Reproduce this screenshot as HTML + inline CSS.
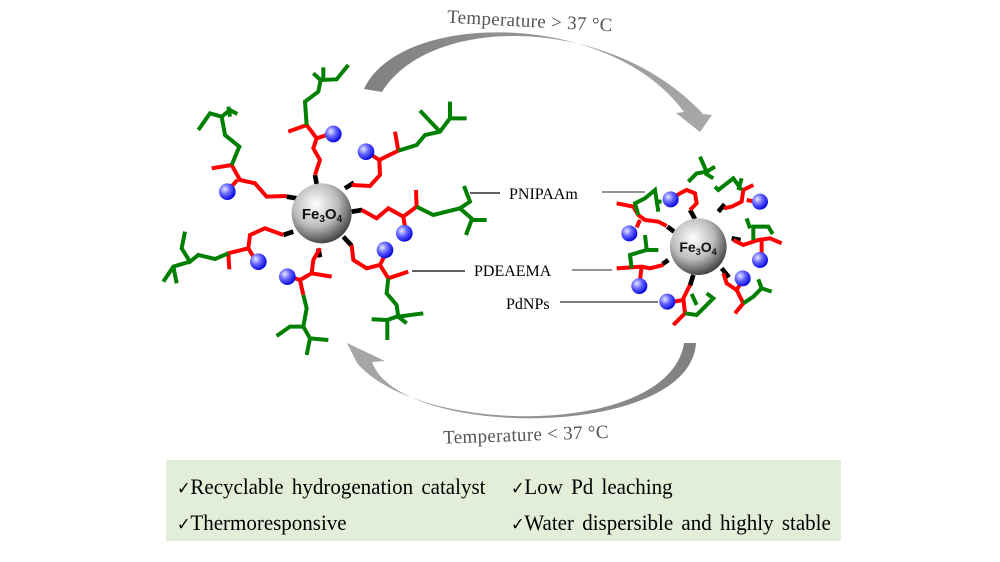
<!DOCTYPE html>
<html><head><meta charset="utf-8"><style>
body{margin:0;background:#fff;width:1000px;height:562px;overflow:hidden;}
svg{position:absolute;left:0;top:0}
.t{font-family:"Liberation Serif",serif;}
</style></head><body>
<svg width="1000" height="562" viewBox="0 0 1000 562">
<defs>
<radialGradient id="bead" cx="0.35" cy="0.35" r="0.7">
<stop offset="0" stop-color="#e8e8ff"/><stop offset="0.45" stop-color="#6666ff"/><stop offset="1" stop-color="#0000dd"/>
</radialGradient>
<radialGradient id="fe" cx="0.4" cy="0.35" r="0.75">
<stop offset="0" stop-color="#ffffff"/><stop offset="0.5" stop-color="#bbbbbb"/><stop offset="1" stop-color="#222"/>
</radialGradient>
<linearGradient id="ga" x1="0" x2="1"><stop offset="0" stop-color="#808080"/><stop offset="1" stop-color="#a8a8a8"/></linearGradient>
<linearGradient id="gb" x1="1" x2="0"><stop offset="0" stop-color="#808080"/><stop offset="1" stop-color="#a8a8a8"/></linearGradient>
</defs>

<!-- arrows -->
<path d="M364,89 C400,10 610,10 684,112 L676,113 L700,132 L712,115 L703,114 C610,14 430,14 382,92 Z" fill="url(#ga)"/>
<path d="M684,343 L696,343 C690,440 400,440 372,362 L385,361 L347,343 L357,363 C420,437 670,437 684,343 Z" fill="url(#gb)"/>
<text class="t" x="447" y="27" font-size="19" letter-spacing="0.3" fill="#555" transform="rotate(3 530 22)">Temperature &gt; 37 °C</text>
<text class="t" x="443" y="441" font-size="19" letter-spacing="0.3" fill="#555" transform="rotate(-2 520 432)">Temperature &lt; 37 °C</text>

<!-- left structure -->
<g transform="translate(150,60) scale(0.3333)" fill="none" stroke-linejoin="miter" stroke-linecap="butt">
<g stroke="#000" stroke-width="14">
<path d="M495,345L500,372M585,385L612,368M605,455L637,450M580,530L605,557M505,565L510,592M400,525L430,515M410,410L440,415"/>
</g>
<g stroke="#ff0000" stroke-width="12">
<path d="M410,408L350,410L315,370L270,360L245,315L185,325M262,360L240,385"/>
<path d="M495,345L510,300L490,265L500,235L470,195L415,215M500,235L530,225"/>
<path d="M605,375L660,378L690,345L688,300L745,272L735,215M688,300L665,285"/>
<path d="M635,450L680,475L715,445L760,470L800,440L798,390M760,470L765,500"/>
<path d="M605,555L610,600L650,625L690,615L715,655L775,635M690,615L705,585"/>
<path d="M510,565L490,600L485,640L545,650M485,640L450,660L460,705M450,660L420,650"/>
<path d="M400,525L345,505L300,525L295,565L235,580L238,628M295,565L310,590"/>
</g>
<g stroke="#008000" stroke-width="12">
<path d="M245,315L268,260L225,225L215,170L180,160L145,210M215,170L240,150L262,162M235,140L240,170"/>
<path d="M470,195L465,125L505,95L512,60L560,58L595,15M512,60L490,40M520,55L520,22"/>
<path d="M745,272L800,255L825,225L870,215L900,175L950,175M900,175L900,125M870,215L810,152"/>
<path d="M800,440L850,465L930,445L970,480L1010,480M930,445L960,425L942,378M965,480L948,525"/>
<path d="M715,655L710,700L740,735L745,770L820,760M745,770L770,790M740,770L712,780L665,778M712,780L712,840"/>
<path d="M460,705L470,745L460,800L420,800L380,828M460,800L480,835L535,840M480,835L470,885"/>
<path d="M235,580L195,597L145,585L120,605L95,565L105,515M120,605L70,620L40,665M70,620L80,670"/>
</g>
<g fill="url(#bead)">
<circle cx="232" cy="395" r="25"/><circle cx="550" cy="222" r="25"/><circle cx="648" cy="275" r="25"/>
<circle cx="763" cy="520" r="25"/><circle cx="705" cy="570" r="25"/><circle cx="412" cy="650" r="25"/><circle cx="325" cy="605" r="25"/>
</g>
<circle cx="515" cy="460" r="90" fill="url(#fe)"/>
</g>
<text x="322" y="219" font-family="Liberation Sans,sans-serif" font-size="15" font-weight="bold" text-anchor="middle" fill="#111">Fe<tspan font-size="10" dy="3">3</tspan><tspan dy="-3">O</tspan><tspan font-size="10" dy="3">4</tspan></text>

<!-- right structure -->
<g transform="translate(580,140) scale(0.3333)" fill="none">
<g stroke="#000" stroke-width="14">
<path d="M330,210L345,237M415,215L434,193M455,295L482,300M425,385L447,412M340,405L330,437M265,360L248,372M262,260L282,275"/>
</g>
<g stroke="#ff0000" stroke-width="12">
<path d="M260,258L235,245L195,240L175,225L160,200L110,190M180,240L170,262"/>
<path d="M330,210L350,190L345,160L320,150L300,160L285,170"/>
<path d="M432,205L455,200L485,185L490,150L520,135M500,180L525,185"/>
<path d="M460,300L490,315L535,300L570,295L605,310M545,300L545,340"/>
<path d="M430,400L440,430L470,450L490,490L465,520M470,450L485,425"/>
<path d="M330,435L310,475L315,520L280,555M310,480L282,485"/>
<path d="M250,375L210,385L185,380L110,385M185,380L180,420"/>
</g>
<g stroke="#008000" stroke-width="12">
<path d="M175,225L165,190L195,175L225,150L235,215M225,185L245,185"/>
<path d="M325,125L350,100L380,95L360,50M380,95L405,80M375,100L400,115"/>
<path d="M485,150L460,115L415,150L405,140M485,115L475,150"/>
<path d="M520,300L520,260L565,260L578,282M500,235L510,265"/>
<path d="M490,490L520,470L545,445L575,455M545,445L535,418"/>
<path d="M315,520L350,525L375,500L400,475L380,460M350,495L335,462"/>
<path d="M155,385L150,345L200,330L195,285M200,330L235,330"/>
</g>
<g fill="url(#bead)">
<circle cx="272" cy="178" r="24"/><circle cx="148" cy="280" r="24"/><circle cx="540" cy="185" r="24"/>
<circle cx="540" cy="360" r="24"/><circle cx="488" cy="415" r="24"/><circle cx="262" cy="485" r="24"/><circle cx="178" cy="438" r="24"/>
</g>
<circle cx="355" cy="320" r="85" fill="url(#fe)"/>
</g>
<text x="698" y="252" font-family="Liberation Sans,sans-serif" font-size="14" font-weight="bold" text-anchor="middle" fill="#111">Fe<tspan font-size="9" dy="3">3</tspan><tspan dy="-3">O</tspan><tspan font-size="9" dy="3">4</tspan></text>

<!-- labels -->
<g stroke-width="1.3">
<line x1="470" y1="193" x2="500" y2="193" stroke="#000"/>
<line x1="602" y1="192" x2="645" y2="192" stroke="#555"/>
<line x1="412" y1="271" x2="465" y2="271" stroke="#000"/>
<line x1="572" y1="270" x2="612" y2="270" stroke="#555"/>
<line x1="560" y1="302" x2="658" y2="302" stroke="#333"/>
</g>
<text class="t" x="509" y="199" font-size="16" fill="#000">PNIPAAm</text>
<text class="t" x="474" y="276" font-size="16" fill="#000">PDEAEMA</text>
<text class="t" x="506" y="309" font-size="16" fill="#000">PdNPs</text>

<!-- feature box -->
<rect x="166" y="460" width="675" height="81" fill="#e3eed9"/>
<g class="t" font-size="21" fill="#000" word-spacing="3">
<text x="177" y="494" transform="translate(177 494) scale(1 1.08) translate(-177 -494)"><tspan font-size="16">✓</tspan>Recyclable hydrogenation catalyst</text>
<text x="511" y="494" transform="translate(511 494) scale(1 1.08) translate(-511 -494)"><tspan font-size="16">✓</tspan>Low Pd leaching</text>
<text x="177" y="530" transform="translate(177 530) scale(1 1.08) translate(-177 -530)"><tspan font-size="16">✓</tspan>Thermoresponsive</text>
<text x="511" y="530" transform="translate(511 530) scale(1 1.08) translate(-511 -530)"><tspan font-size="16">✓</tspan>Water dispersible and highly stable</text>
</g>
</svg>
</body></html>
